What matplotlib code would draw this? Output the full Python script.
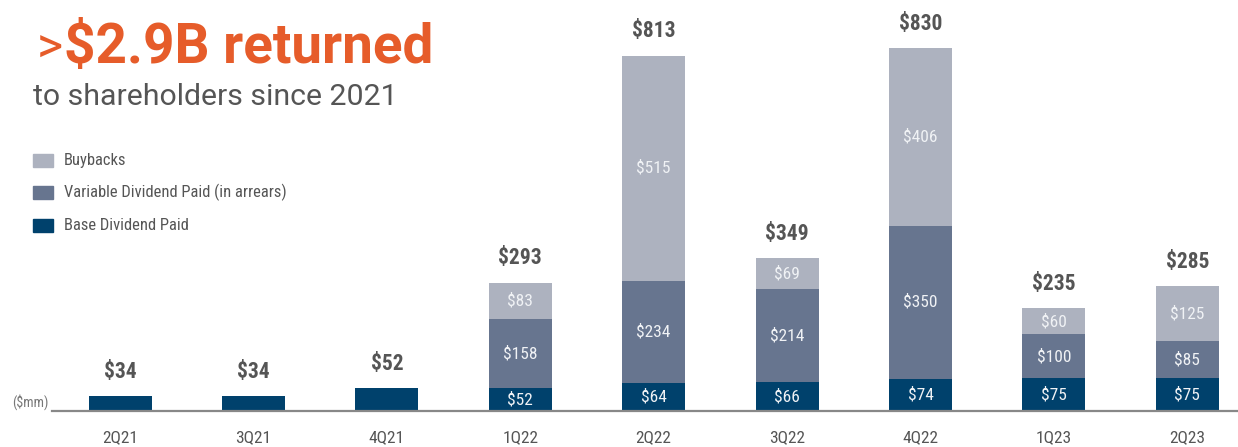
import matplotlib
matplotlib.use("Agg")
import matplotlib.pyplot as plt
from matplotlib.patches import Rectangle
import numpy as np

quarters = ["2Q21", "3Q21", "4Q21", "1Q22", "2Q22", "3Q22", "4Q22", "1Q23", "2Q23"]
base_div = [34, 34, 52, 52, 64, 66, 74, 75, 75]
variable_div = [0, 0, 0, 158, 234, 214, 350, 100, 85]
buybacks = [0, 0, 0, 83, 515, 69, 406, 60, 125]
totals = [34, 34, 52, 293, 813, 349, 830, 235, 285]
series_names = ["Buybacks", "Variable Dividend Paid (in arrears)", "Base Dividend Paid"]

C_BASE = "#00416c"
C_VAR = "#67758f"
C_BUY = "#adb2bf"
C_TEXT = "#555555"
C_ORANGE = "#e65c2a"

plt.rcParams['font.family'] = ['Roboto Condensed', 'DejaVu Sans']
WIDE = ['Roboto', 'DejaVu Sans']

W, H = 1238, 447
fig = plt.figure(figsize=(W / 100, H / 100), dpi=100)
ax = fig.add_axes([52 / W, 1 - 411 / H, 1 - 52 / W, 411 / H])

x = np.arange(len(quarters))
bw = 0.472
ax.bar(x, base_div, bw, color=C_BASE, zorder=2)
ax.bar(x, variable_div, bw, bottom=base_div, color=C_VAR, zorder=2)
bot3 = np.array(base_div) + np.array(variable_div)
ax.bar(x, buybacks, bw, bottom=bot3, color=C_BUY, zorder=2)

ax.set_xlim(-0.51, 8.38)
ax.set_ylim(0, 940)
for s in ["top", "right", "left"]:
    ax.spines[s].set_visible(False)
ax.spines["bottom"].set_color("#888888")
ax.spines["bottom"].set_linewidth(1.6)
ax.set_yticks([])
ax.set_xticks(x)
ax.set_xticklabels(quarters, fontsize=12.5, color=C_TEXT)
ax.tick_params(axis="x", length=0, pad=14)

# inner labels
for i in range(len(quarters)):
    if variable_div[i] > 0:
        ax.text(x[i], base_div[i] / 2, f"${base_div[i]}", ha="center", va="center",
                color="#f0f2f5", fontsize=12.5, zorder=3)
        ax.text(x[i], base_div[i] + variable_div[i] / 2, f"${variable_div[i]}", ha="center",
                va="center", color="#f0f2f5", fontsize=12.5, zorder=3)
    if buybacks[i] > 0:
        ax.text(x[i], bot3[i] + buybacks[i] / 2, f"${buybacks[i]}", ha="center", va="center",
                color="#f0f2f5", fontsize=12.5, zorder=3)
    ax.annotate(f"${totals[i]}", (x[i], totals[i]), xytext=(0, 24.5 * 0.72),
                textcoords="offset points", ha="center", va="center",
                fontsize=15.5, fontweight="bold", color=C_TEXT)

# ($mm)
fig.text(12 / W, 1 - 402 / H, "($mm)", fontsize=10, color="#777777", ha="left", va="center")

# legend (manual)
leg_y = [160, 192, 225]
leg_cols = [C_BUY, C_VAR, C_BASE]
for name, col, yy in zip(series_names, leg_cols, leg_y):
    fig.patches.append(Rectangle((33 / W, 1 - (yy + 6.5) / H), 20 / W, 13 / H,
                                 transform=fig.transFigure, color=col, figure=fig))
    fig.text(64 / W, 1 - yy / H, name, fontsize=11.9, color=C_TEXT, ha="left", va="center")

# title
fig.canvas.draw()
r = fig.canvas.get_renderer()
t1 = fig.text(37 / W, 1 - 63 / H, ">", fontsize=36, color=C_ORANGE, ha="left",
              va="baseline", family=WIDE)
bb = t1.get_window_extent(renderer=r)
t2 = fig.text((bb.x1 + 1) / W, 1 - 63 / H, "$2.9B returned", fontsize=39.5, fontweight="bold",
              color=C_ORANGE, ha="left", va="baseline", family=WIDE)
fig.text(33 / W, 1 - 105 / H, "to shareholders since 2021", fontsize=21.8, color=C_TEXT,
         ha="left", va="baseline", family=WIDE)

fig.savefig("out.png", dpi=100)
